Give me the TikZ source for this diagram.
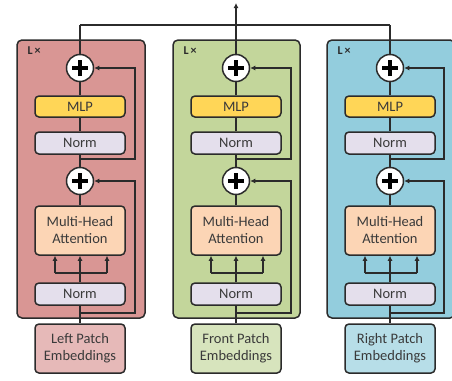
\documentclass[tikz,border=0pt]{standalone}
\usepackage{fontspec}
\setmainfont{Carlito}
\usetikzlibrary{positioning, arrows.meta}

\definecolor{lineGray}{HTML}{2B2B2B}
\definecolor{textGray}{HTML}{3A3A3A}
\definecolor{leftPanel}{HTML}{D99694}
\definecolor{frontPanel}{HTML}{C3D69B}
\definecolor{rightPanel}{HTML}{93CDDD}
\definecolor{leftEmb}{HTML}{E6B9B8}
\definecolor{frontEmb}{HTML}{D7E4BD}
\definecolor{rightEmb}{HTML}{B7DEE8}
\definecolor{mlpFill}{HTML}{FFD657}
\definecolor{normFill}{HTML}{E4DFEC}
\definecolor{mhaFill}{HTML}{FCD5B5}

\begin{document}
\begin{tikzpicture}[x=1pt, y=-1pt, >={Latex[length=5pt, width=5pt]},
    panel/.style={draw=lineGray, line width=1.5pt, rounded corners=5pt},
    block/.style={draw=lineGray, line width=1.5pt, rounded corners=4pt, minimum width=90pt, inner sep=0pt, align=center, text=textGray, font=\fontsize{14.5}{17}\selectfont},
    plusNode/.style={circle, draw=lineGray, line width=1.5pt, fill=white, minimum size=27pt, inner sep=0pt,
        path picture={\draw[line width=3.2pt, black] (path picture bounding box.center) ++(-8pt,0) -- ++(16pt,0)
            (path picture bounding box.center) ++(0,-8pt) -- ++(0,16pt);}},
    wire/.style={draw=lineGray, line width=1.3pt},
    layerTag/.style={font=\bfseries\fontsize{12}{12}\selectfont, text=lineGray, anchor=west}]
\useasboundingbox (0,0) rectangle (452,380);

% panels
\draw[panel, fill=leftPanel] (17,40) rectangle (145,318);
\draw[panel, fill=frontPanel] (173,40) rectangle (300,318);
\draw[panel, fill=rightPanel] (327,40) rectangle (455,318);
\node[layerTag] (leftTag) at (24,51) {L\,×};
\node[layerTag] (frontTag) at (180,51) {L\,×};
\node[layerTag] (rightTag) at (334,51) {L\,×};

% left branch
\node[block, fill=leftEmb, minimum height=49pt] (leftEmbed) at (80,348.5) {Left Patch\\Embeddings};
\node[block, fill=normFill, minimum height=22pt] (leftNormLow) at (80,294) {Norm};
\node[block, fill=mhaFill, minimum height=49pt] (leftMha) at (80,230.5) {Multi-Head\\Attention};
\node[plusNode] (leftPlusLow) at (80,181) {};
\node[block, fill=normFill, minimum height=22pt] (leftNormTop) at (80,143) {Norm};
\node[block, fill=mlpFill, minimum height=21pt] (leftMlp) at (80,106.5) {MLP};
\node[plusNode] (leftPlusTop) at (80,68) {};
\coordinate (leftSplitLow) at (80,313);
\coordinate (leftResLow) at (135,313);
\coordinate (leftSplitTop) at (80,159);
\coordinate (leftResTop) at (135,159);
\coordinate (leftForkA) at (55,273);
\coordinate (leftForkB) at (80,273);
\coordinate (leftForkC) at (107,273);
\coordinate (leftOut) at (80,25);
\draw[wire] (leftEmbed) -- (leftNormLow);
\draw[wire] (leftNormLow) -- (leftForkB);
\draw[wire] (leftForkA) -- (leftForkC);
\draw[wire, ->] (leftForkA) -- (leftForkA |- leftMha.south);
\draw[wire, ->] (leftForkB) -- (leftMha);
\draw[wire, ->] (leftForkC) -- (leftForkC |- leftMha.south);
\draw[wire] (leftMha) -- (leftPlusLow);
\draw[wire] (leftPlusLow) -- (leftNormTop);
\draw[wire] (leftNormTop) -- (leftMlp);
\draw[wire] (leftMlp) -- (leftPlusTop);
\draw[wire, ->] (leftSplitLow) -- (leftResLow) |- (leftPlusLow.east);
\draw[wire, ->] (leftSplitTop) -- (leftResTop) |- (leftPlusTop.east);
\draw[wire] (leftPlusTop) -- (leftOut);

% front branch
\node[block, fill=frontEmb, minimum height=49pt] (frontEmbed) at (236,348.5) {Front Patch\\Embeddings};
\node[block, fill=normFill, minimum height=22pt] (frontNormLow) at (236,294) {Norm};
\node[block, fill=mhaFill, minimum height=49pt] (frontMha) at (236,230.5) {Multi-Head\\Attention};
\node[plusNode] (frontPlusLow) at (236,181) {};
\node[block, fill=normFill, minimum height=22pt] (frontNormTop) at (236,143) {Norm};
\node[block, fill=mlpFill, minimum height=21pt] (frontMlp) at (236,106.5) {MLP};
\node[plusNode] (frontPlusTop) at (236,68) {};
\coordinate (frontSplitLow) at (236,313);
\coordinate (frontResLow) at (291,313);
\coordinate (frontSplitTop) at (236,159);
\coordinate (frontResTop) at (291,159);
\coordinate (frontForkA) at (211,273);
\coordinate (frontForkB) at (236,273);
\coordinate (frontForkC) at (263,273);
\coordinate (frontOut) at (236,3);
\draw[wire] (frontEmbed) -- (frontNormLow);
\draw[wire] (frontNormLow) -- (frontForkB);
\draw[wire] (frontForkA) -- (frontForkC);
\draw[wire, ->] (frontForkA) -- (frontForkA |- frontMha.south);
\draw[wire, ->] (frontForkB) -- (frontMha);
\draw[wire, ->] (frontForkC) -- (frontForkC |- frontMha.south);
\draw[wire] (frontMha) -- (frontPlusLow);
\draw[wire] (frontPlusLow) -- (frontNormTop);
\draw[wire] (frontNormTop) -- (frontMlp);
\draw[wire] (frontMlp) -- (frontPlusTop);
\draw[wire, ->] (frontSplitLow) -- (frontResLow) |- (frontPlusLow.east);
\draw[wire, ->] (frontSplitTop) -- (frontResTop) |- (frontPlusTop.east);
\draw[wire, ->] (frontPlusTop) -- (frontOut);

% right branch
\node[block, fill=rightEmb, minimum height=49pt] (rightEmbed) at (390,348.5) {Right Patch\\Embeddings};
\node[block, fill=normFill, minimum height=22pt] (rightNormLow) at (390,294) {Norm};
\node[block, fill=mhaFill, minimum height=49pt] (rightMha) at (390,230.5) {Multi-Head\\Attention};
\node[plusNode] (rightPlusLow) at (390,181) {};
\node[block, fill=normFill, minimum height=22pt] (rightNormTop) at (390,143) {Norm};
\node[block, fill=mlpFill, minimum height=21pt] (rightMlp) at (390,106.5) {MLP};
\node[plusNode] (rightPlusTop) at (390,68) {};
\coordinate (rightSplitLow) at (390,313);
\coordinate (rightResLow) at (444,313);
\coordinate (rightSplitTop) at (390,159);
\coordinate (rightResTop) at (444,159);
\coordinate (rightForkA) at (365,273);
\coordinate (rightForkB) at (390,273);
\coordinate (rightForkC) at (417,273);
\coordinate (rightOut) at (390,25);
\draw[wire] (rightEmbed) -- (rightNormLow);
\draw[wire] (rightNormLow) -- (rightForkB);
\draw[wire] (rightForkA) -- (rightForkC);
\draw[wire, ->] (rightForkA) -- (rightForkA |- rightMha.south);
\draw[wire, ->] (rightForkB) -- (rightMha);
\draw[wire, ->] (rightForkC) -- (rightForkC |- rightMha.south);
\draw[wire] (rightMha) -- (rightPlusLow);
\draw[wire] (rightPlusLow) -- (rightNormTop);
\draw[wire] (rightNormTop) -- (rightMlp);
\draw[wire] (rightMlp) -- (rightPlusTop);
\draw[wire, ->] (rightSplitLow) -- (rightResLow) |- (rightPlusLow.east);
\draw[wire, ->] (rightSplitTop) -- (rightResTop) |- (rightPlusTop.east);
\draw[wire] (rightPlusTop) -- (rightOut);

% merge on top
\draw[wire] (leftOut) -- (rightOut);

\end{tikzpicture}
\end{document}
